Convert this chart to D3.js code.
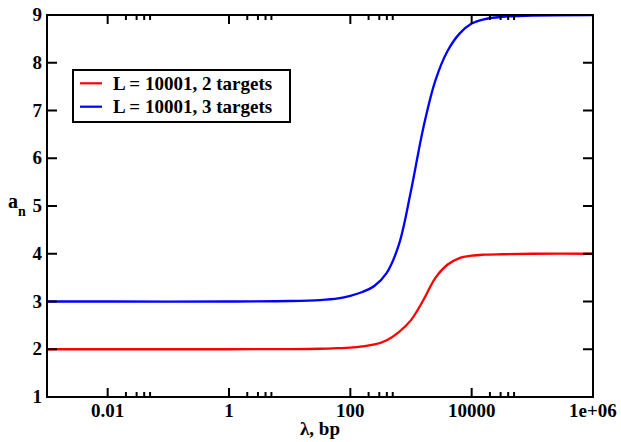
<!DOCTYPE html>
<html>
<head>
<meta charset="utf-8">
<script src="https://cdn.jsdelivr.net/npm/d3@7"></script>
<style>
    body { margin: 0; background: #fff; }
    text { font-family: "Liberation Serif", serif; font-weight: 700; }
</style>
</head>
<body>
<div id="chart"></div>
<script>
let lambdas = [0.001, 0.01, 1, 10, 31.6, 63.1, 100, 158, 251, 398, 631, 1000, 1585, 2512, 3981, 6310, 10000, 15850, 31620, 100000, 1000000];
// a_n for 2 targets
let red2 = [2, 2, 2, 2.003, 2.01, 2.023, 2.035, 2.06, 2.10, 2.19, 2.36, 2.61, 3.02, 3.49, 3.77, 3.91, 3.96, 3.98, 3.99, 4.0, 4.0];
// a_n for 3 targets
let blue3 = [3, 3, 3, 3.01, 3.03, 3.065, 3.12, 3.20, 3.33, 3.60, 4.19, 5.32, 6.62, 7.62, 8.24, 8.61, 8.82, 8.91, 8.96, 8.99, 9.0];

let seriesNames = ["L = 10001, 2 targets", "L = 10001, 3 targets"];
let seriesColors = ["#ff0000", "#0000ff"];

let xMajor = [0.01, 1, 100, 10000, 1000000];
let xMajorLabels = ["0.01", "1", "100", "10000", "1e+06"];
let xMinorMult = [2, 3, 4, 5];
let yTicks = [1, 2, 3, 4, 5, 6, 7, 8, 9];

let width = 621, height = 442;
let plotLeft = 47, plotRight = 593, plotTop = 15, plotBottom = 397;

let svg = d3.select('#chart').append('svg')
    .attr('width', width)
    .attr('height', height);

let x = d3.scaleLog().domain([0.001, 1000000]).range([plotLeft, plotRight]);
let y = d3.scaleLinear().domain([1, 9]).range([plotBottom, plotTop]);

svg.append('clipPath').attr('id', 'plotclip')
    .append('rect')
    .attr('x', plotLeft).attr('y', plotTop)
    .attr('width', plotRight - plotLeft).attr('height', plotBottom - plotTop);

let line = d3.line()
    .x(d => x(d[0]))
    .y(d => y(d[1]))
    .curve(d3.curveCatmullRom.alpha(0.5));

[red2, blue3].forEach((vals, i) => {
    let pts = lambdas.map((l, j) => [l, vals[j]]);
    svg.append('path')
        .attr('d', line(pts))
        .attr('fill', 'none')
        .attr('stroke', seriesColors[i])
        .attr('stroke-width', 2.3)
        .attr('clip-path', 'url(#plotclip)');
});

// frame
svg.append('rect')
    .attr('x', plotLeft).attr('y', plotTop)
    .attr('width', plotRight - plotLeft).attr('height', plotBottom - plotTop)
    .attr('fill', 'none')
    .attr('stroke', '#000')
    .attr('stroke-width', 2);

let minorVals = [];
xMajor.forEach(m => xMinorMult.forEach(k => {
    if (m * k < 1000000) minorVals.push(m * k);
}));

let ticks = svg.append('g').attr('stroke', '#000').attr('stroke-width', 2);

// x ticks, bottom and top
xMajor.forEach(v => {
    ticks.append('line').attr('x1', x(v)).attr('x2', x(v)).attr('y1', plotBottom).attr('y2', plotBottom - 9);
    ticks.append('line').attr('x1', x(v)).attr('x2', x(v)).attr('y1', plotTop).attr('y2', plotTop + 9);
});
minorVals.forEach(v => {
    ticks.append('line').attr('x1', x(v)).attr('x2', x(v)).attr('y1', plotBottom).attr('y2', plotBottom - 5);
    ticks.append('line').attr('x1', x(v)).attr('x2', x(v)).attr('y1', plotTop).attr('y2', plotTop + 5);
});
// y ticks, left and right
yTicks.forEach(v => {
    ticks.append('line').attr('x1', plotLeft).attr('x2', plotLeft + 10).attr('y1', y(v)).attr('y2', y(v));
    ticks.append('line').attr('x1', plotRight).attr('x2', plotRight - 10).attr('y1', y(v)).attr('y2', y(v));
});

// tick labels
svg.append('g').selectAll('text')
    .data(xMajor)
    .join('text')
    .attr('x', d => x(d))
    .attr('y', 417)
    .attr('text-anchor', 'middle')
    .attr('font-size', 19)
    .text((d, i) => xMajorLabels[i]);

svg.append('g').selectAll('text')
    .data(yTicks)
    .join('text')
    .attr('x', 42)
    .attr('y', d => y(d) + 6)
    .attr('text-anchor', 'end')
    .attr('font-size', 19)
    .text(d => d);

// axis titles
svg.append('text')
    .attr('x', (plotLeft + plotRight) / 2)
    .attr('y', 435)
    .attr('text-anchor', 'middle')
    .attr('font-size', 19)
    .text('λ, bp');

let ylab = svg.append('text')
    .attr('x', 8)
    .attr('y', 208)
    .attr('font-size', 20);
ylab.append('tspan').text('a');
ylab.append('tspan').attr('font-size', 14).attr('dy', 8).text('n');

// legend
let legend = svg.append('g');
legend.append('rect')
    .attr('x', 73).attr('y', 70)
    .attr('width', 217).attr('height', 52)
    .attr('fill', '#fff')
    .attr('stroke', '#000')
    .attr('stroke-width', 2);

seriesNames.forEach((name, i) => {
    let ly = 83.3 + i * 23.4;
    legend.append('line')
        .attr('x1', 80).attr('x2', 102)
        .attr('y1', ly).attr('y2', ly)
        .attr('stroke', seriesColors[i])
        .attr('stroke-width', 2.2);
    legend.append('text')
        .attr('x', 113)
        .attr('y', ly + 6.5)
        .attr('font-size', 19)
        .text(name);
});
</script>
</body>
</html>
